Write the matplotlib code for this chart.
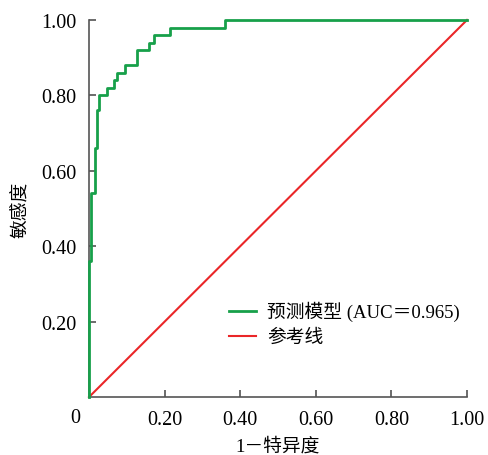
import numpy as np
import matplotlib
matplotlib.use("Agg")
import matplotlib.pyplot as plt

plt.rcParams['font.family'] = ['Liberation Serif', 'Noto Sans CJK SC']
plt.rcParams['axes.unicode_minus'] = False

# ROC curve (vertical jumps at each fpr)
fpr = [0, 0, 0.006, 0.016, 0.020, 0.026, 0.047, 0.066, 0.073, 0.094,
       0.126, 0.160, 0.173, 0.214, 0.360, 1.0]
tpr = [0, 0.36, 0.54, 0.66, 0.76, 0.80, 0.82, 0.84, 0.86, 0.88,
       0.92, 0.94, 0.96, 0.98, 1.00, 1.00]
ref = [0, 1]
ticks = [0.2, 0.4, 0.6, 0.8, 1.0]
tick_labels = ["0.20", "0.40", "0.60", "0.80", "1.00"]

fig = plt.figure(figsize=(4.89, 4.56), dpi=100)
ax = fig.add_axes([0.182, 0.127, 0.773, 0.827])

ax.step(fpr, tpr, where='post', color='#17a04a', lw=2.0,
        label='预测模型 (AUC＝0.965)', clip_on=False, zorder=3)
ax.plot(ref, ref, color='#ea2628', lw=1.5, label='参考线', clip_on=False)

ax.set_xlim(0, 1)
ax.set_ylim(0, 1)
ax.set_xticks(ticks, tick_labels)
ax.set_yticks(ticks, tick_labels)
for s in ['top', 'right']:
    ax.spines[s].set_visible(False)
for s in ['left', 'bottom']:
    ax.spines[s].set_color('#555555')
    ax.spines[s].set_linewidth(1.2)
ax.tick_params(direction='in', length=5, width=1.1, color='#444444',
               labelsize=14.5, pad=9)
ax.text(-0.037, -0.03, '0', transform=ax.transAxes, ha='center', va='top',
        fontsize=14.5)

ax.set_xlabel('1－特异度', fontsize=13.5, labelpad=6)
ax.set_ylabel('敏感度', fontsize=13.5, labelpad=8)

ax.legend(loc='lower right', bbox_to_anchor=(1.025, 0.09), frameon=False,
          fontsize=13.5, handlelength=1.4, handletextpad=0.6, labelspacing=0.4)

fig.savefig('out.png', dpi=100)
